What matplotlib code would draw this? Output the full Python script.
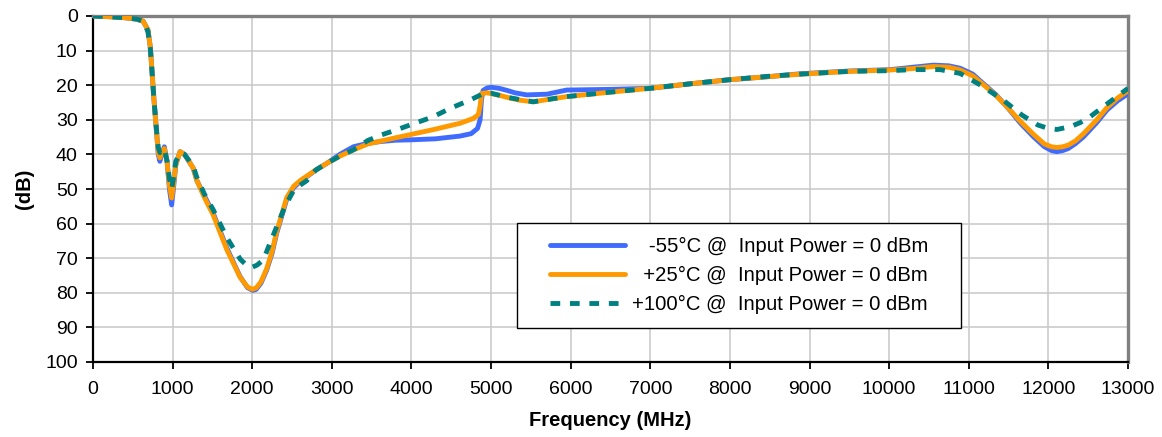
import matplotlib
matplotlib.use("Agg")
import matplotlib.pyplot as plt
from matplotlib.patches import Rectangle

plt.rcParams['font.family'] = ['Liberation Sans', 'DejaVu Sans']

# -55 C
freq_m55 = [0, 200, 400, 550, 630, 690, 720, 737, 766, 800, 820, 840, 860, 896, 930, 960, 988, 1010, 1040, 1093,
            1150, 1260, 1302, 1400, 1510, 1680, 1847, 1940, 2006, 2050, 2110, 2182, 2250, 2307, 2433, 2520, 2600,
            2800, 2936, 3100, 3270, 3450, 3605, 3800, 3982, 4300, 4611, 4750, 4830, 4862, 4880, 4900, 4950, 5000,
            5100, 5200, 5300, 5448, 5700, 5950, 6500, 6997, 7500, 8000, 8500, 8882, 9500, 10013, 10300, 10553,
            10750, 10892, 11050, 11181, 11330, 11478, 11650, 11813, 11950, 12040, 12106, 12180, 12250, 12340,
            12442, 12600, 12735, 12870, 13000]
db_m55 = [0, 0.2, 0.5, 0.9, 1.5, 4, 9, 14.6, 24.3, 34, 40, 42, 40, 37.8, 42, 50, 54.6, 50, 43, 39.2,
          40, 44, 47.4, 52, 57, 67, 75.3, 78.5, 79.3, 79.0, 77.2, 73.4, 68.5, 62.8, 53, 49.6, 47.9,
          44.5, 42.6, 40, 37.8, 36.8, 36.3, 35.9, 35.8, 35.5, 34.7, 34, 32.5, 30, 24, 21.5, 20.8, 20.6,
          20.9, 21.5, 22.2, 22.8, 22.6, 21.4, 21.2, 20.9, 19.6, 18.4, 17.5, 16.7, 15.9, 15.5, 14.8, 14.2,
          14.4, 15.1, 16.8, 19.5, 22.5, 26.2, 31, 34.9, 37.8, 38.9, 39.2, 38.9, 38.3, 36.9,
          34.9, 31, 27.2, 24.5, 22.5]

# +25 C
freq_p25 = [0, 200, 400, 550, 630, 690, 720, 737, 766, 800, 820, 840, 860, 896, 930, 960, 988, 1010, 1040, 1093,
            1150, 1260, 1302, 1400, 1510, 1680, 1847, 1940, 2000, 2050, 2110, 2182, 2250, 2307, 2433, 2520, 2600,
            2800, 2936, 3100, 3270, 3450, 3605, 3800, 3982, 4300, 4611, 4777, 4840, 4862, 4880, 4950, 5100, 5200,
            5350, 5530, 5750, 5950, 6500, 6997, 7500, 8000, 8500, 8882, 9500, 10013, 10300, 10553, 10750, 10892,
            11050, 11181, 11330, 11478, 11650, 11813, 11950, 12040, 12106, 12180, 12250, 12340, 12442, 12600,
            12735, 12870, 13000]
db_p25 = [0, 0.2, 0.5, 0.9, 1.5, 4, 9, 14.6, 24.3, 34, 39.5, 41, 39.5, 38.3, 42, 49, 52.6, 49, 43, 39.2,
          40, 44, 47.4, 52.5, 57.5, 67.5, 75.5, 78.3, 79, 78.6, 76.8, 73, 68, 62.3, 52.5, 49.2, 47.6,
          44.5, 42.6, 40.5, 38.7, 37, 36.2, 35.2, 34.3, 32.7, 31, 29.6, 28.5, 26, 22.4, 22.2, 22.9, 23.5,
          24.3, 24.8, 24, 23.3, 22, 20.9, 19.6, 18.4, 17.5, 16.8, 16, 15.6, 15.2, 14.6, 14.8, 15.6,
          17.3, 19.8, 22.7, 26.2, 30.5, 34.2, 37, 37.8, 38.0, 37.8, 37.3, 36.1, 34, 30.2,
          26.5, 23.7, 21.6]

# +100 C
freq_p100 = [0, 200, 400, 550, 630, 690, 720, 737, 766, 800, 820, 840, 860, 896, 930, 960, 988, 1010, 1040, 1093,
             1150, 1260, 1302, 1400, 1510, 1680, 1760, 1850, 1940, 1990, 2060, 2140, 2200, 2307, 2412, 2530, 2684,
             2800, 2936, 3100, 3270, 3450, 3605, 3800, 3982, 4275, 4485, 4736, 4904, 5000, 5200, 5530, 5750, 5950,
             6500, 6997, 7500, 8000, 8500, 8882, 9500, 10013, 10300, 10641, 10892, 11150, 11432, 11666, 11867,
             12000, 12106, 12274, 12400, 12525, 12755, 13000]
db_p100 = [0, 0.2, 0.5, 0.9, 1.5, 4.5, 9.5, 14.6, 24.3, 33.5, 38, 39.5, 38.5, 38.5, 42, 47, 50, 47, 42, 39.5,
           40, 43.5, 46.5, 51.5, 56, 64, 67, 70.3, 72.3, 72.7, 72, 70.5, 67, 60.9, 55, 50, 47.6,
           44.5, 42.6, 40.5, 38.7, 36, 34.5, 33, 31.5, 29.1, 26.7, 24.3, 22.4, 22.3, 23.5, 24.8, 24, 23.3,
           22, 20.9, 19.6, 18.4, 17.4, 16.8, 16, 15.8, 15.5, 15.5, 16.6, 20.0, 24.3, 28.6, 31.5,
           32.5, 32.8, 32, 30.8, 29.1, 25.1, 20.9]

labels = ["   -55°C @  Input Power = 0 dBm",
          "  +25°C @  Input Power = 0 dBm",
          "+100°C @  Input Power = 0 dBm"]
x_ticks = list(range(0, 13001, 1000))
y_ticks = list(range(0, 101, 10))

W, H = 1162, 437
fig = plt.figure(figsize=(W / 100, H / 100), dpi=100)
L, R, T, B = 93, 1128, 16, 362
ax = fig.add_axes([L / W, 1 - B / H, (R - L) / W, (B - T) / H])

ax.plot(freq_m55, db_m55, color='#3F6BFF', lw=3.5, solid_capstyle='round', solid_joinstyle='round',
        label=labels[0], zorder=3)
ax.plot(freq_p25, db_p25, color='#FF9900', lw=3.5, solid_capstyle='round', solid_joinstyle='round',
        label=labels[1], zorder=3.1)
ax.plot(freq_p100, db_p100, color='#008080', lw=3.5, dashes=(2.0, 2.0), label=labels[2], zorder=3.2)

ax.set_xlim(0, 13000)
ax.set_ylim(100, 0)
ax.set_xticks(x_ticks)
ax.set_yticks(y_ticks)
ax.set_xticklabels([str(v) for v in x_ticks])
ax.set_yticklabels([str(v) for v in y_ticks])
ax.grid(True, color='#c8c8c8', lw=1.1, zorder=0)
ax.set_axisbelow(True)

ax.tick_params(axis='both', direction='out', length=5, width=1.3, labelsize=14, colors='black')
ax.tick_params(axis='x', pad=9)
ax.tick_params(axis='y', pad=6)
for s in ['left', 'bottom']:
    ax.spines[s].set_color('black')
    ax.spines[s].set_linewidth(1.6)
for s in ['top', 'right']:
    ax.spines[s].set_color('#808080')
    ax.spines[s].set_linewidth(2.4)

ax.set_xlabel('Frequency (MHz)', fontsize=14.5, fontweight='bold', labelpad=9)
ax.set_ylabel('(dB)', fontsize=14.5, fontweight='bold', labelpad=8)

# legend frame
lx0, ly0, lx1, ly1 = 517, 223, 961, 328
ax.add_patch(Rectangle((lx0 / W, 1 - ly1 / H), (lx1 - lx0) / W, (ly1 - ly0) / H,
                       transform=fig.transFigure, facecolor='white', edgecolor='black',
                       lw=1.0, zorder=4, clip_on=False))
leg = ax.legend(loc='center', bbox_to_anchor=((lx0 + lx1) / 2 / W, 1 - (ly0 + ly1) / 2 / H),
                bbox_transform=fig.transFigure, frameon=False, fontsize=14.6,
                handlelength=3.7, handletextpad=0.35, labelspacing=0.5, borderpad=0)
leg.set_zorder(5)

fig.savefig('out.png', dpi=100)
